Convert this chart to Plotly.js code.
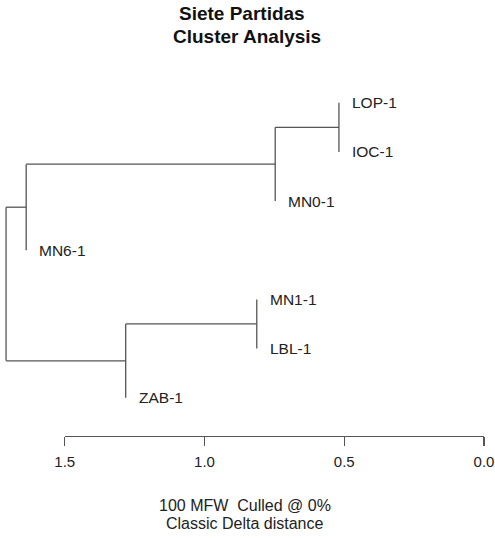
<!DOCTYPE html>
<html>
<head>
<meta charset="utf-8">
<script src="https://cdn.plot.ly/plotly-3.0.1.min.js"></script>
<style>html,body{margin:0;padding:0;background:#fff;}</style>
</head>
<body>
<div id="chart" style="width:495px;height:538px;"></div>
<script>
// Leaf labels, in plotted order (top to bottom)
const leafLabels = ['LOP-1', 'IOC-1', 'MN0-1', 'MN6-1', 'MN1-1', 'LBL-1', 'ZAB-1'];
// Merge steps (R hclust style): negative = leaf index (1-based), positive = earlier merge
const mergeLeft  = [-1, 1, 2, -5, 4, 3];
const mergeRight = [-2, -3, -4, -6, -7, 5];
// Merge heights (Classic Delta distance)
const mergeHeights = [0.519, 0.747, 1.638, 0.813, 1.282, 1.710];
// Axis ticks
const tickVals = [1.5, 1.0, 0.5, 0.0];
const tickText = ['1.5', '1.0', '0.5', '0.0'];
// Titles
const titleLines = ['Siete Partidas', 'Cluster Analysis'];
const subtitleLines = ['100 MFW\u00a0\u00a0Culled @ 0%', 'Classic Delta distance'];

const lineColor = '#555555';
const textColor = '#222222';
const fontFam = 'Liberation Sans, Arial, Helvetica, sans-serif';

// compute node y positions
const nodeY = [];
function childY(c) { return c < 0 ? (-c) : nodeY[c - 1]; }
for (let i = 0; i < mergeLeft.length; i++) {
  nodeY.push((childY(mergeLeft[i]) + childY(mergeRight[i])) / 2);
}
const lx = [], ly = [];
const leafX = new Array(leafLabels.length).fill(0);
for (let i = 0; i < mergeLeft.length; i++) {
  const h = mergeHeights[i];
  const a = mergeLeft[i], b = mergeRight[i];
  lx.push(h, h, null); ly.push(childY(a), childY(b), null);
  [a, b].forEach(c => {
    if (c > 0) {
      lx.push(h, mergeHeights[c - 1], null);
      ly.push(childY(c), childY(c), null);
    } else {
      leafX[-c - 1] = h;
    }
  });
}

const W = 495, H = 538;
const xRange = [1.7317, -0.0394];
const yRange = [9.853, -1.089];
const frac = v => (xRange[0] - v) / (xRange[0] - xRange[1]);
const py = p => (H - p) / H;

const traces = [
  { x: tickVals, y: tickVals.map(() => 0), mode: 'markers', marker: { opacity: 0 },
    hoverinfo: 'skip', showlegend: false, xaxis: 'x2', yaxis: 'y2' },
  { x: lx, y: ly, mode: 'lines', line: { color: lineColor, width: 1.3 },
    hoverinfo: 'skip', showlegend: false, xaxis: 'x', yaxis: 'y' }
];

const annotations = leafLabels.map((t, i) => ({
  x: leafX[i], y: i + 1, xref: 'x', yref: 'y', text: t, showarrow: false,
  xanchor: 'left', yanchor: 'middle', xshift: 11,
  font: { family: fontFam, size: 15.5, color: textColor }
}));
annotations.push(
  { x: 241.5 / W, y: py(14), xref: 'paper', yref: 'paper', text: titleLines[0],
    showarrow: false, xanchor: 'center', yanchor: 'middle',
    font: { family: fontFam, size: 19, color: '#111111', weight: 'bold' } },
  { x: 247 / W, y: py(36), xref: 'paper', yref: 'paper', text: titleLines[1],
    showarrow: false, xanchor: 'center', yanchor: 'middle',
    font: { family: fontFam, size: 19, color: '#111111', weight: 'bold' } },
  { x: 245 / W, y: py(505), xref: 'paper', yref: 'paper', text: subtitleLines[0],
    showarrow: false, xanchor: 'center', yanchor: 'middle', font: { family: fontFam, size: 16, color: textColor } },
  { x: 245 / W, y: py(523), xref: 'paper', yref: 'paper', text: subtitleLines[1],
    showarrow: false, xanchor: 'center', yanchor: 'middle', font: { family: fontFam, size: 16, color: textColor } }
);

const layout = {
  width: W, height: H,
  margin: { l: 0, r: 0, t: 0, b: 0 },
  paper_bgcolor: '#ffffff', plot_bgcolor: 'rgba(0,0,0,0)',
  showlegend: false,
  xaxis: { range: xRange, visible: false, fixedrange: true },
  yaxis: { range: yRange, visible: false, fixedrange: true },
  xaxis2: { domain: [frac(1.5), frac(0)], range: [1.5, 0], anchor: 'y2',
    tickvals: tickVals, ticktext: tickText, ticks: 'outside', ticklen: 9, tickwidth: 1.3,
    ticklabelstandoff: 3,
    tickcolor: lineColor, showline: true, linecolor: lineColor, linewidth: 1.3,
    showgrid: false, zeroline: false, fixedrange: true,
    tickfont: { family: fontFam, size: 15, color: textColor } },
  yaxis2: { domain: [py(436), 1], range: [0, 1], visible: false, anchor: 'x2', fixedrange: true },
  annotations: annotations
};

Plotly.newPlot('chart', traces, layout, { staticPlot: true, displayModeBar: false });
</script>
</body>
</html>
